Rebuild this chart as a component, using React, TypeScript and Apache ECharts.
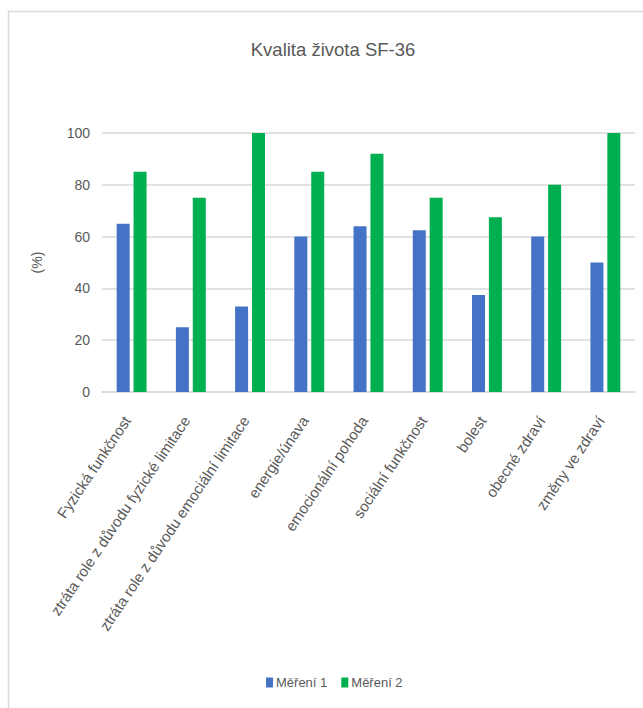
import React, { useEffect, useRef } from "react";
import * as echarts from "echarts";

const categories = [
  "Fyzická funkčnost",
  "ztráta role z důvodu fyzické limitace",
  "ztráta role z důvodu emociální limitace",
  "energie/únava",
  "emocionální pohoda",
  "sociální funkčnost",
  "bolest",
  "obecné zdraví",
  "změny ve zdraví",
];

const mereni1 = [65, 25, 33, 60, 64, 62.5, 37.5, 60, 50];
const mereni2 = [85, 75, 100, 85, 92, 75, 67.5, 80, 100];

const yTicks = { min: 0, max: 100, interval: 20 };

const FONT = "'Liberation Sans', sans-serif";
const TEXT = "#595959";
const LINE = "#d9d9d9";

export default function App() {
  const ref = useRef<HTMLDivElement>(null);

  useEffect(() => {
    if (!ref.current) return;
    const chart = echarts.init(ref.current, undefined, { renderer: "svg" });
    chart.setOption({
      animation: false,
      backgroundColor: "#ffffff",
      textStyle: { fontFamily: FONT },
      title: {
        text: "Kvalita života SF-36",
        left: 328,
        textAlign: "center",
        top: 35,
        textStyle: { fontFamily: FONT, fontSize: 18.5, fontWeight: "normal", color: TEXT },
      },
      legend: {
        bottom: 14,
        left: 261,
        itemWidth: 7,
        itemHeight: 10,
        itemGap: 14,
        icon: "rect",
        textStyle: { fontFamily: FONT, fontSize: 13, color: TEXT, padding: [0, 0, 0, -2] },
        data: ["Měření 1", "Měření 2"],
      },
      graphic: [
        {
          type: "line",
          shape: { x1: 8, y1: 11.5, x2: 643, y2: 11.5 },
          style: { stroke: LINE, lineWidth: 1.5 },
        },
        {
          type: "line",
          shape: { x1: 8.5, y1: 11, x2: 8.5, y2: 708 },
          style: { stroke: LINE, lineWidth: 1.5 },
        },
      ],
      grid: { left: 102, right: 8, top: 133, bottom: 316, containLabel: false },
      xAxis: {
        type: "category",
        data: categories,
        axisLine: { lineStyle: { color: LINE, width: 1.5 } },
        axisTick: { show: false },
        axisLabel: {
          interval: 0,
          rotate: 56,
          margin: 19,
          padding: [0, 8, 0, 0],
          fontFamily: FONT,
          fontSize: 15,
          color: TEXT,
        },
      },
      yAxis: {
        type: "value",
        min: yTicks.min,
        max: yTicks.max,
        interval: yTicks.interval,
        name: "(%)",
        nameLocation: "middle",
        nameGap: 58,
        nameTextStyle: { fontFamily: FONT, fontSize: 14, color: TEXT },
        axisLine: { show: false },
        axisTick: { show: false },
        axisLabel: { fontFamily: FONT, fontSize: 14, color: TEXT, margin: 12 },
        splitLine: { lineStyle: { color: LINE, width: 1.5 } },
      },
      series: [
        {
          name: "Měření 1",
          type: "bar",
          data: mereni1,
          barWidth: 13,
          barGap: "30%",
          itemStyle: { color: "#4472C4" },
        },
        {
          name: "Měření 2",
          type: "bar",
          data: mereni2,
          barWidth: 13,
          barGap: "30%",
          itemStyle: { color: "#00B050" },
        },
      ],
    });
    return () => chart.dispose();
  }, []);

  return (
    <div
      ref={ref}
      style={{ position: "fixed", left: 0, top: 0, width: 643, height: 708 }}
    />
  );
}
